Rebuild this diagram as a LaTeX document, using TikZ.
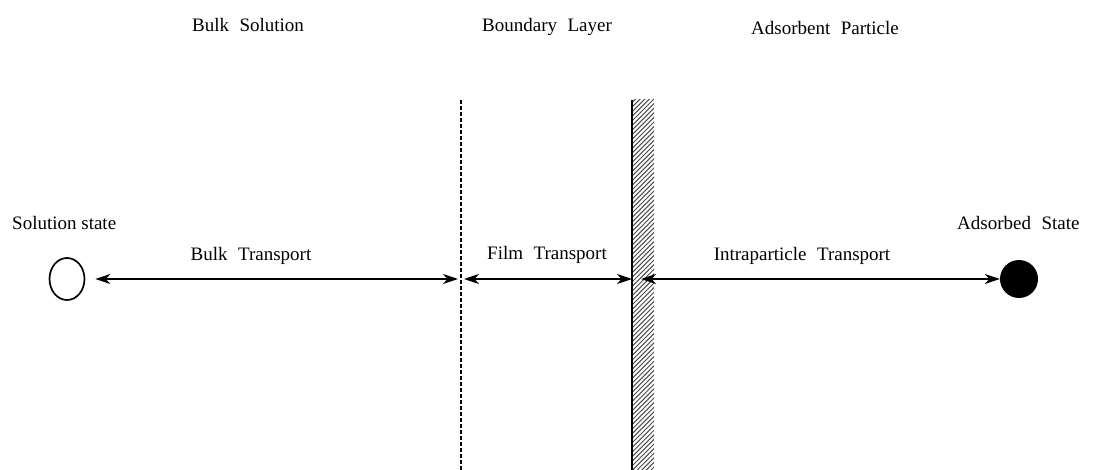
\documentclass[tikz,border=0pt]{standalone}
\usepackage{fontspec}
\setmainfont{Liberation Serif}
\usetikzlibrary{arrows.meta,shapes.geometric}
\begin{document}
\begin{tikzpicture}[x=1pt,y=-1pt,
  lbl/.style={font=\fontsize{19}{22}\selectfont, inner sep=0pt, anchor=base, text=black},
  tip/.style={Stealth[length=15pt,width=10pt,inset=4.5pt]},
  arr/.style={line width=1.6pt, {Stealth[length=15pt,width=10pt,inset=4.5pt]}-{Stealth[length=15pt,width=10pt,inset=4.5pt]}},
  wallline/.style={line width=2pt},
  dashline/.style={line width=1.6pt, dash pattern=on 4pt off 2pt}
]
\useasboundingbox (0,0) rectangle (1095,470);

% headings
\node[lbl] (hbulk) at (248,32) {Bulk\hspace{0.55em}Solution};
\node[lbl] (hbound) at (547,32) {Boundary\hspace{0.55em}Layer};
\node[lbl] (hads) at (825,35) {Adsorbent\hspace{0.55em}Particle};

% dashed boundary
\coordinate (dtop) at (461,100);
\coordinate (dbot) at (461,470);
\draw[dashline] (dtop) -- (dbot);

% hatched wall
\begin{scope}
  \clip (632,100) rectangle (654,470);
  \foreach \i in {0,...,85}
    \draw[black!70, line width=1pt] (630,100+\i*4.6) -- ++(28,-28);
\end{scope}
\coordinate (wtop) at (632,100);
\coordinate (wbot) at (632,470);
\draw[wallline] (wtop) -- (wbot);

% states
\node[draw, line width=1.7pt, ellipse, minimum width=35pt, minimum height=42pt, inner sep=0pt] (sol) at (67,279) {};
\node[fill=black, circle, minimum size=38pt, inner sep=0pt] (ads) at (1019,279) {};
\node[lbl, anchor=base west] (soltxt) at (12,230) {Solution state};
\node[lbl, anchor=base west] (adstxt) at (957,230) {Adsorbed\hspace{0.55em}State};

% line coordinates
\coordinate (dl) at (461,279);
\coordinate (wl) at (632,279);
\coordinate (wr) at (641,279);

% arrows
\draw[arr, shorten <=10pt, shorten >=3pt] (sol) -- (dl);
\draw[arr, shorten <=3pt] (dl) -- (wl);
\draw[arr] (wr) -- (ads);

% arrow labels
\node[lbl] (lbulk) at (251,261) {Bulk\hspace{0.55em}Transport};
\node[lbl] (lfilm) at (547,260) {Film\hspace{0.55em}Transport};
\node[lbl] (lintra) at (802,261) {Intraparticle\hspace{0.55em}Transport};
\end{tikzpicture}
\end{document}
